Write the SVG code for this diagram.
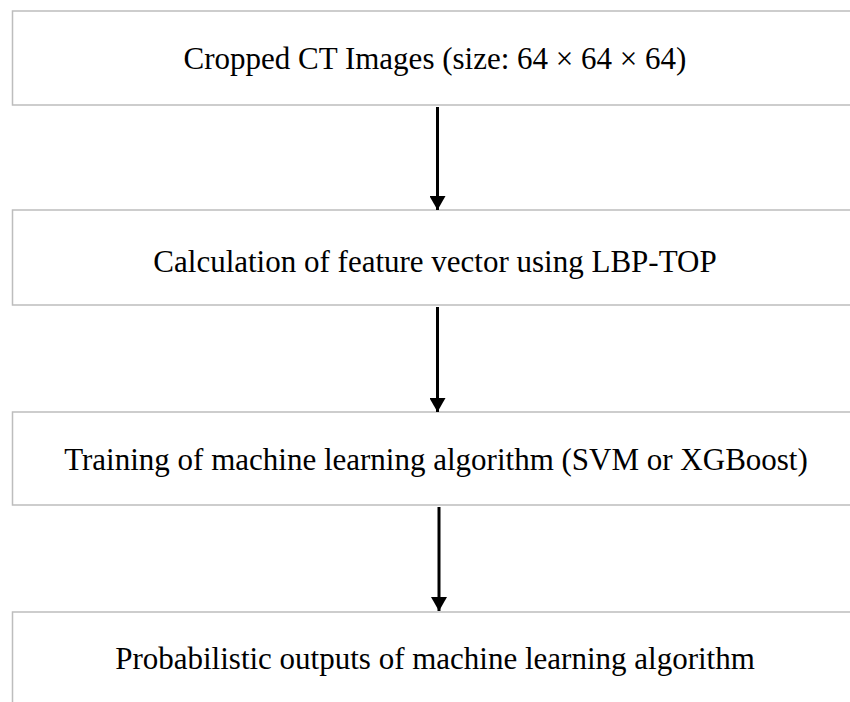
<svg xmlns="http://www.w3.org/2000/svg" width="850" height="702" viewBox="0 0 850 702">
<style>
.box{fill:#fff;stroke:#bdbdbd;stroke-width:1.5}
.t{font-family:"Liberation Serif","Times New Roman",serif;font-size:31px;fill:#000;text-anchor:middle}
.c{stroke:#000;stroke-width:3;fill:none}
</style>
<defs>
<marker id="a" viewBox="0 0 14 16" refX="14" refY="8" markerWidth="14" markerHeight="16" orient="auto" markerUnits="userSpaceOnUse"><path d="M0,0 L14,8 L0,16 Z" fill="#000"/></marker>
</defs>
<rect width="850" height="702" fill="#fff"/>
<g id="n1"><rect class="box" x="12.5" y="11" width="845" height="94"/><text class="t" x="435" y="69">Cropped CT Images (size: 64 × 64 × 64)</text></g>
<g id="n2"><rect class="box" x="12.5" y="210" width="845" height="95"/><text class="t" x="435" y="272">Calculation of feature vector using LBP-TOP</text></g>
<g id="n3"><rect class="box" x="12.5" y="412" width="845" height="93"/><text class="t" x="436" y="470">Training of machine learning algorithm (SVM or XGBoost)</text></g>
<g id="n4"><rect class="box" x="12.5" y="612" width="845" height="100"/><text class="t" x="435" y="669">Probabilistic outputs of machine learning algorithm</text></g>
<g id="connectors">
<line class="c" x1="437.5" y1="107" x2="437.5" y2="210" marker-end="url(#a)"/>
<line class="c" x1="437.5" y1="307" x2="437.5" y2="412" marker-end="url(#a)"/>
<line class="c" x1="439" y1="507" x2="439" y2="611" marker-end="url(#a)"/>
</g>
</svg>
